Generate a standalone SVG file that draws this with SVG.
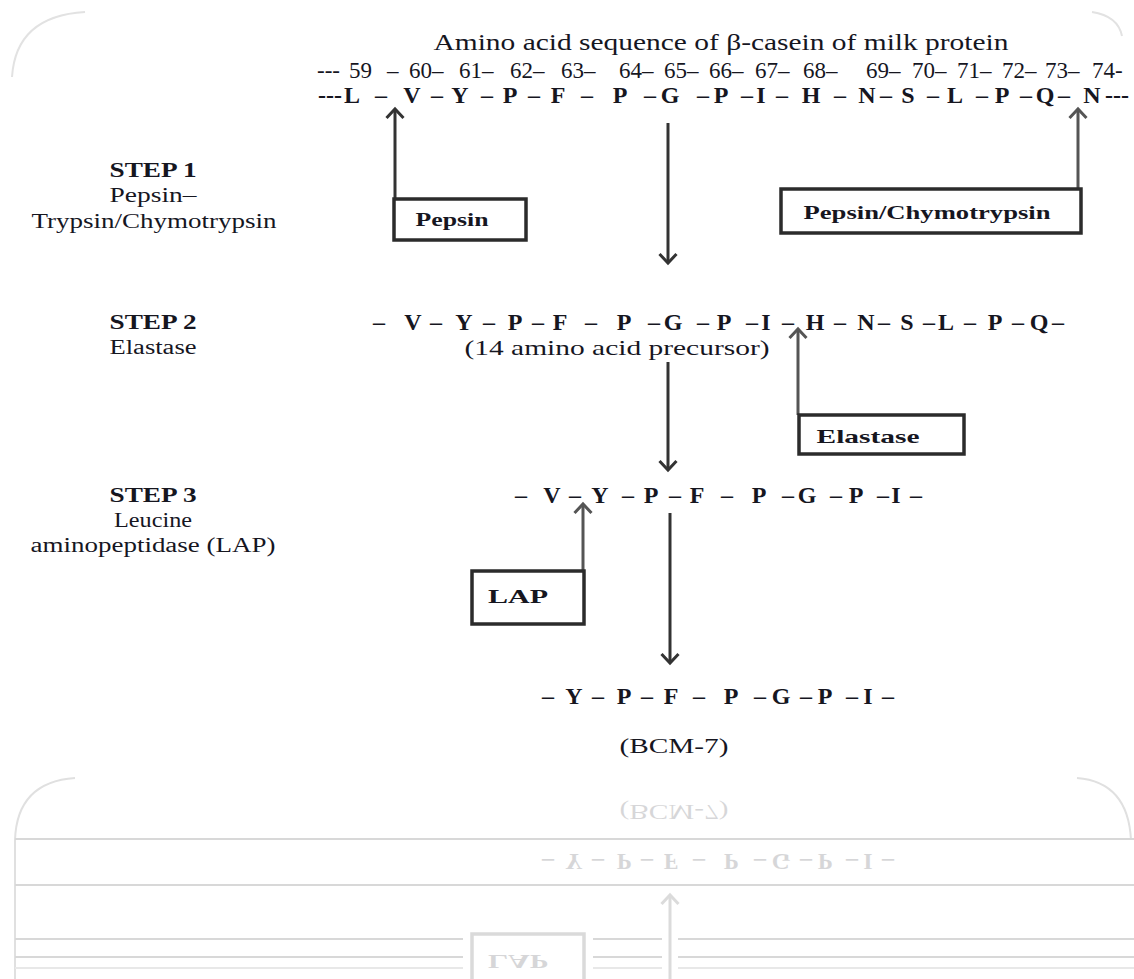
<svg xmlns="http://www.w3.org/2000/svg" xmlns:xlink="http://www.w3.org/1999/xlink" width="1134" height="979" viewBox="0 0 1134 979">
<style>
.t{font-family:"Liberation Serif","Times New Roman",serif;fill:#16161f}
.b{font-weight:bold}
.seq{font-family:"Liberation Serif","Times New Roman",serif;font-weight:bold;font-size:24px;fill:#16161f;text-anchor:middle}
.num{font-family:"Liberation Serif","Times New Roman",serif;font-size:23px;fill:#16161f;text-anchor:start}
.lbl{font-family:"Liberation Serif","Times New Roman",serif;font-size:20px;fill:#16161f;text-anchor:middle}
.box{fill:#fff;stroke:#2b2b2b;stroke-width:3.5}
.btx{font-family:"Liberation Serif","Times New Roman",serif;font-weight:bold;font-size:19px;fill:#16161f;text-anchor:middle}
.dn{stroke:#333;stroke-width:3;fill:none;marker-end:url(#ad)}
.up{stroke:#555;stroke-width:3;fill:none;marker-end:url(#au)}
.up1{stroke:#333;stroke-width:3;fill:none;marker-end:url(#ad)}
.faint{stroke:#e2e2e2;stroke-width:2;fill:none}
</style>
<defs>
<marker id="ad" viewBox="0 0 20 20" refX="17" refY="10" markerWidth="20" markerHeight="20" markerUnits="userSpaceOnUse" orient="auto">
<path d="M8,1.5 L17,10 L8,18.5" fill="none" stroke="#333" stroke-width="3"/>
</marker>
<marker id="au" viewBox="0 0 20 20" refX="17" refY="10" markerWidth="20" markerHeight="20" markerUnits="userSpaceOnUse" orient="auto">
<path d="M8,1.5 L17,10 L8,18.5" fill="none" stroke="#555" stroke-width="3"/>
</marker>
<clipPath id="reflclip"><rect x="0" y="779" width="1134" height="200"/></clipPath>
</defs>
<rect x="0" y="0" width="1134" height="979" fill="#fff"/>
<g id="card-corners" class="faint">
<path d="M12,77 Q16,16 85,12"/>
<path d="M1092,12 Q1118,16 1122,36"/>
</g>
<g id="content">
<g id="connectors">
<line class="dn" x1="668" y1="123" x2="668" y2="263"/>
<line class="dn" x1="668" y1="362" x2="668" y2="470"/>
<line class="dn" x1="670" y1="513" x2="670" y2="663"/>
<line class="up1" x1="395" y1="199" x2="395" y2="109"/>
<line class="up" x1="1078" y1="189" x2="1078" y2="109"/>
<line class="up" x1="798" y1="415" x2="798" y2="329"/>
<line class="up" x1="583" y1="571" x2="583" y2="504"/>
</g>
<g id="title">
<text class="t" x="721" y="50" font-size="23" text-anchor="middle" textLength="575" lengthAdjust="spacingAndGlyphs">Amino acid sequence of β-casein of milk protein</text>
</g>
<g id="positions">
<text class="num" y="78"><tspan x="317">---</tspan><tspan x="349">59</tspan><tspan x="387">–</tspan><tspan x="409">60–</tspan><tspan x="459">61–</tspan><tspan x="510">62–</tspan><tspan x="561">63–</tspan><tspan x="619">64–</tspan><tspan x="664">65–</tspan><tspan x="709">66–</tspan><tspan x="755">67–</tspan><tspan x="803">68–</tspan><tspan x="866">69–</tspan><tspan x="912">70–</tspan><tspan x="957">71–</tspan><tspan x="1002">72–</tspan><tspan x="1045">73–</tspan><tspan x="1092">74-</tspan></text>
</g>
<g id="seq-casein">
<text class="seq" y="103"><tspan x="330">---</tspan><tspan x="352">L</tspan><tspan x="381">–</tspan><tspan x="412">V</tspan><tspan x="437">–</tspan><tspan x="460">Y</tspan><tspan x="487">–</tspan><tspan x="510">P</tspan><tspan x="534">–</tspan><tspan x="558">F</tspan><tspan x="587">–</tspan><tspan x="620">P</tspan><tspan x="650">–</tspan><tspan x="670">G</tspan><tspan x="703">–</tspan><tspan x="721">P</tspan><tspan x="747">–</tspan><tspan x="761">I</tspan><tspan x="782">–</tspan><tspan x="811">H</tspan><tspan x="840">–</tspan><tspan x="867">N</tspan><tspan x="886">–</tspan><tspan x="908">S</tspan><tspan x="933">–</tspan><tspan x="955">L</tspan><tspan x="982">–</tspan><tspan x="1002">P</tspan><tspan x="1026">–</tspan><tspan x="1045">Q</tspan><tspan x="1064">–</tspan><tspan x="1092">N</tspan><tspan x="1117">---</tspan></text>
</g>
<g id="step1">
<text class="lbl b" x="153" y="177" textLength="87" lengthAdjust="spacingAndGlyphs">STEP 1</text>
<text class="lbl" x="153" y="202" textLength="87" lengthAdjust="spacingAndGlyphs">Pepsin–</text>
<text class="lbl" x="154" y="228" textLength="245" lengthAdjust="spacingAndGlyphs">Trypsin/Chymotrypsin</text>
</g>
<g id="step2">
<text class="lbl b" x="153" y="329" textLength="87" lengthAdjust="spacingAndGlyphs">STEP 2</text>
<text class="lbl" x="153" y="354" textLength="87" lengthAdjust="spacingAndGlyphs">Elastase</text>
</g>
<g id="step3">
<text class="lbl b" x="153" y="502" textLength="87" lengthAdjust="spacingAndGlyphs">STEP 3</text>
<text class="lbl" x="153" y="527" textLength="78" lengthAdjust="spacingAndGlyphs">Leucine</text>
<text class="lbl" x="153" y="552" textLength="245" lengthAdjust="spacingAndGlyphs">aminopeptidase (LAP)</text>
</g>
<g id="box-pepsin">
<rect class="box" x="394" y="199" width="132" height="41"/>
<text class="btx" x="452" y="226" textLength="73" lengthAdjust="spacingAndGlyphs">Pepsin</text>
</g>
<g id="box-pepsin-chymotrypsin">
<rect class="box" x="781" y="189" width="300" height="44"/>
<text class="btx" x="927" y="219" textLength="247" lengthAdjust="spacingAndGlyphs">Pepsin/Chymotrypsin</text>
</g>
<g id="seq-precursor">
<text class="seq" y="330"><tspan x="379">–</tspan><tspan x="413">V</tspan><tspan x="436">–</tspan><tspan x="464">Y</tspan><tspan x="489">–</tspan><tspan x="515">P</tspan><tspan x="538">–</tspan><tspan x="560">F</tspan><tspan x="591">–</tspan><tspan x="624">P</tspan><tspan x="654">–</tspan><tspan x="673">G</tspan><tspan x="703">–</tspan><tspan x="724">P</tspan><tspan x="752">–</tspan><tspan x="766">I</tspan><tspan x="788">–</tspan><tspan x="815">H</tspan><tspan x="840">–</tspan><tspan x="866">N</tspan><tspan x="884">–</tspan><tspan x="907">S</tspan><tspan x="929">–</tspan><tspan x="946">L</tspan><tspan x="970">–</tspan><tspan x="995">P</tspan><tspan x="1018">–</tspan><tspan x="1039">Q</tspan><tspan x="1058">–</tspan></text>
<text class="t" x="617" y="355" font-size="21" text-anchor="middle" textLength="305" lengthAdjust="spacingAndGlyphs">(14 amino acid precursor)</text>
</g>
<g id="box-elastase">
<rect class="box" x="799" y="415" width="165" height="39"/>
<text class="btx" x="868" y="443" textLength="103" lengthAdjust="spacingAndGlyphs">Elastase</text>
</g>
<g id="seq-step3">
<text class="seq" y="503"><tspan x="521">–</tspan><tspan x="552">V</tspan><tspan x="575">–</tspan><tspan x="600">Y</tspan><tspan x="628">–</tspan><tspan x="651">P</tspan><tspan x="675">–</tspan><tspan x="697">F</tspan><tspan x="727">–</tspan><tspan x="759">P</tspan><tspan x="788">–</tspan><tspan x="807">G</tspan><tspan x="836">–</tspan><tspan x="856">P</tspan><tspan x="883">–</tspan><tspan x="896">I</tspan><tspan x="916">–</tspan></text>
</g>
<g id="box-lap">
<rect class="box" x="472" y="571" width="112" height="53"/>
<text class="btx" x="518" y="603" textLength="60" lengthAdjust="spacingAndGlyphs">LAP</text>
</g>
<g id="seq-bcm7">
<text class="seq" y="704"><tspan x="548">–</tspan><tspan x="574">Y</tspan><tspan x="598">–</tspan><tspan x="624">P</tspan><tspan x="647">–</tspan><tspan x="671">F</tspan><tspan x="699">–</tspan><tspan x="731">P</tspan><tspan x="760">–</tspan><tspan x="781">G</tspan><tspan x="806">–</tspan><tspan x="825">P</tspan><tspan x="852">–</tspan><tspan x="868">I</tspan><tspan x="888">–</tspan></text>
<text class="t" x="674" y="753" font-size="22" text-anchor="middle" textLength="109" lengthAdjust="spacingAndGlyphs">(BCM-7)</text>
</g>
</g>
<g id="reflection">
<g clip-path="url(#reflclip)" opacity="0.17">
<use xlink:href="#content" href="#content" transform="translate(0,1558) scale(1,-1)"/>
</g>
<g stroke="#d8d8d8" stroke-width="2" fill="none">
<path d="M15,979 V840 Q17,782 75,778" stroke="#e0e0e0"/>
<path d="M1077,778 Q1128,782 1131,840" stroke="#e0e0e0"/>
<line x1="15" y1="839" x2="1134" y2="839"/>
<line x1="15" y1="885" x2="1134" y2="885"/>
<path d="M15,939 H463 M593,939 H662 M678,939 H1134"/>
<path d="M15,957 H463 M593,957 H662 M678,957 H1134"/>
<path d="M15,968 H463 M593,968 H662 M678,968 H1134" stroke="#e8e8e8"/>
</g>
</g>
</svg>
